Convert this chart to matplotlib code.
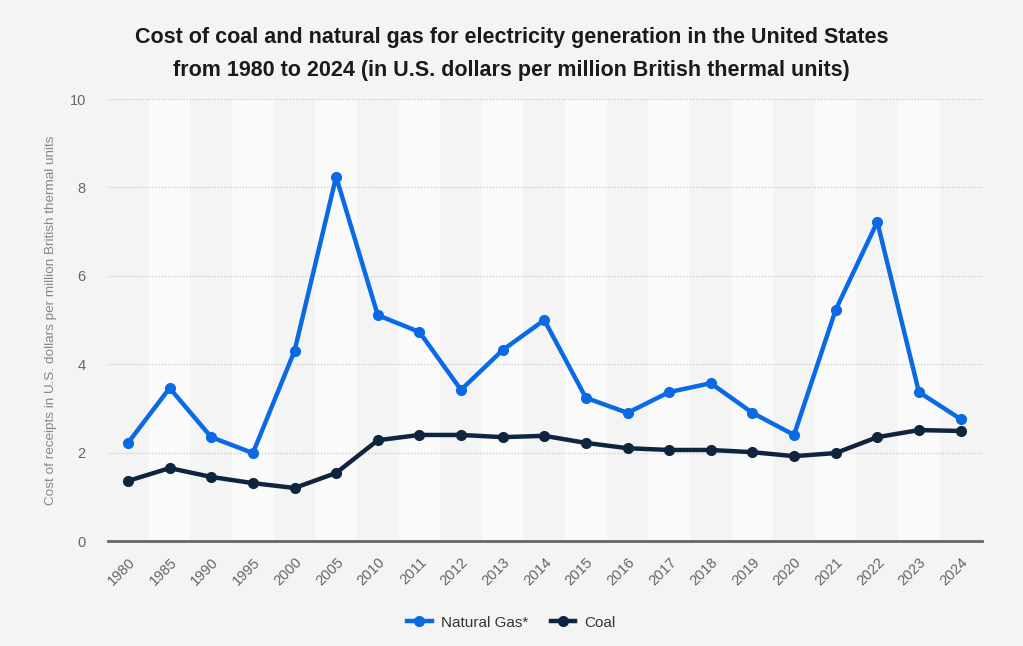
import matplotlib
matplotlib.use('Agg')
import matplotlib.pyplot as plt
from matplotlib.ticker import MultipleLocator

plt.rcParams['font.family'] = ['Liberation Sans', 'DejaVu Sans']

years = ['1980', '1985', '1990', '1995', '2000', '2005', '2010', '2011', '2012', '2013', '2014',
         '2015', '2016', '2017', '2018', '2019', '2020', '2021', '2022', '2023', '2024']
natural_gas = [2.22, 3.46, 2.35, 1.99, 4.30, 8.24, 5.11, 4.73, 3.42, 4.32, 5.00,
               3.24, 2.90, 3.37, 3.57, 2.90, 2.40, 5.23, 7.22, 3.37, 2.76]
coal = [1.36, 1.65, 1.45, 1.31, 1.20, 1.54, 2.28, 2.40, 2.40, 2.35, 2.38,
        2.22, 2.10, 2.06, 2.06, 2.01, 1.92, 1.99, 2.35, 2.51, 2.49]

bg = '#f4f4f4'
blue = '#0a6ae6'
navy = '#0f243e'

fig = plt.figure(figsize=(10.23, 6.46), dpi=100, facecolor=bg)
ax = fig.add_axes([0.1056, 0.1625, 0.8545, 0.6842])
ax.set_facecolor(bg)

x = list(range(len(years)))

# alternating light bands
for i in x:
    if i % 2 == 1:
        ax.axvspan(i - 0.5, i + 0.5, ymin=0, ymax=1, color='#fafafa', zorder=0, lw=0)

ax.plot(x, natural_gas, color=blue, lw=3.2, marker='o', ms=7, label='Natural Gas*', zorder=3)
ax.plot(x, coal, color=navy, lw=3.2, marker='o', ms=7, label='Coal', zorder=3)

ax.set_xlim(-0.48, 20.52)
ax.set_ylim(0, 10)
ax.yaxis.set_major_locator(MultipleLocator(2))
ax.grid(axis='y', color='#c8c8c8', linestyle=(0, (1, 1.5)), lw=0.9, zorder=1)
ax.set_axisbelow(True)

for side in ['top', 'right', 'left']:
    ax.spines[side].set_visible(False)
ax.spines['bottom'].set_color('#666666')
ax.spines['bottom'].set_linewidth(2)

ax.set_xticks(x)
ax.set_xticklabels(years, rotation=45, ha='right', rotation_mode='anchor')
ax.tick_params(axis='x', length=0, pad=10, labelsize=10.5, labelcolor='#666666')
ax.tick_params(axis='y', length=0, pad=16, labelsize=10.5, labelcolor='#666666')

ax.set_ylabel('Cost of receipts in U.S. dollars per million British thermal units',
              fontsize=9.7, color='#888888', labelpad=9)

fig.text(0.5, 0.917, 'Cost of coal and natural gas for electricity generation in the United States\n'
         'from 1980 to 2024 (in U.S. dollars per million British thermal units)',
         ha='center', va='center', fontsize=15.5, fontweight='bold', color='#1a1a1a', linespacing=1.75)

leg = fig.legend(loc='center', bbox_to_anchor=(0.5, 0.036), ncol=2, frameon=False,
                 fontsize=11, handlelength=1.6, columnspacing=1.5, handletextpad=0.6)
for t in leg.get_texts():
    t.set_color('#333333')

fig.savefig('out.png', dpi=100, facecolor=bg)
